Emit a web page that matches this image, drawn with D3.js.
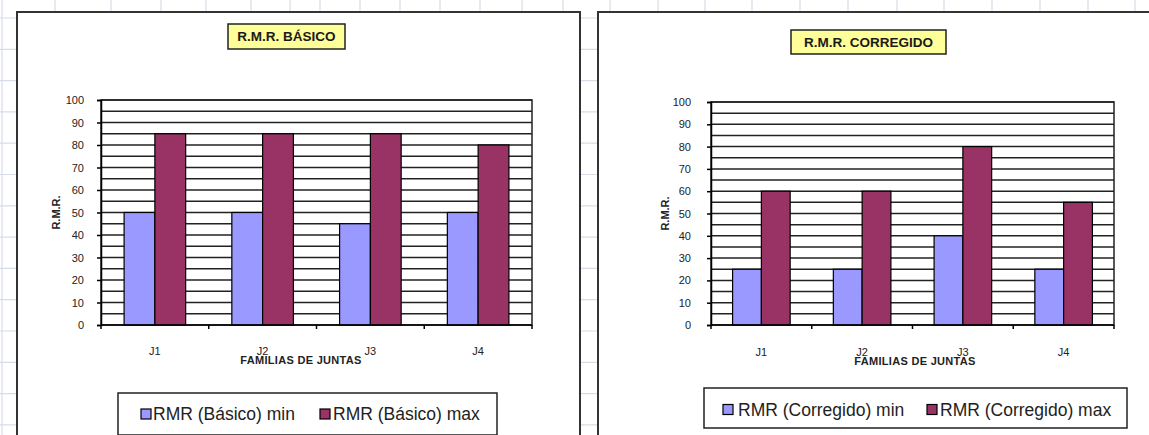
<!DOCTYPE html>
<html>
<head>
<meta charset="utf-8">
<script src="https://cdn.jsdelivr.net/npm/d3@7"></script>
<style>
  html, body { margin: 0; padding: 0; background: #fff; }
  svg { display: block; font-family: "Liberation Sans", Arial, sans-serif; }
</style>
</head>
<body>
<svg id="chart" width="1149" height="435"></svg>
<script>
// Joint families and R.M.R. ranges
const categories = ["J1", "J2", "J3", "J4"];
const basicoMin = [50, 50, 45, 50];
const basicoMax = [85, 85, 85, 80];
const corregidoMin = [25, 25, 40, 25];
const corregidoMax = [60, 60, 80, 55];
const yTickValues = [0, 10, 20, 30, 40, 50, 60, 70, 80, 90, 100];
const gridValues = d3.range(5, 101, 5);
const seriesKeys = ["min", "max"];
const seriesColors = { min: "#9999FF", max: "#993366" };

const svg = d3.select("#chart");
const W = 1149, H = 435;

// Worksheet cell grid behind the charts
const sheet = svg.append("g").attr("stroke", "#d6dce8").attr("stroke-width", 1.2);
const rowH = 31.3;
d3.range(18, H, rowH).forEach(y => {
  sheet.append("line").attr("x1", 0).attr("x2", W).attr("y1", y).attr("y2", y);
});
const colXs = [2, 55, 111, 161, 206, 251, 290, 320, 360, 400, 440, 480, 522, 563,
               610, 658, 705, 752, 800, 848, 897, 944, 992, 1040, 1088, 1135];
colXs.forEach(x => {
  sheet.append("line").attr("x1", x).attr("x2", x).attr("y1", 0).attr("y2", H);
});

const panels = [
  {
    title: "R.M.R. BÁSICO",
    minVals: basicoMin, maxVals: basicoMax,
    legendNames: ["RMR (Básico) min", "RMR (Básico) max"],
    frameX: 17, frameW: 563,
    plot: { x0: 101, x1: 532, y0: 100, y1: 325 },
    titleBox: { x: 228, y: 24, w: 117, h: 25 },
    tickLabelGap: 17, yTitleX: 56,
    catLabelY: 355, xTitleX: 301, xTitleY: 364,
    legend: { x: 118, y: 393, w: 379, h: 42, sw: [141, 320], tx: [153, 333], cy: 414 }
  },
  {
    title: "R.M.R. CORREGIDO",
    minVals: corregidoMin, maxVals: corregidoMax,
    legendNames: ["RMR (Corregido) min", "RMR (Corregido) max"],
    frameX: 598, frameW: 600,
    plot: { x0: 711, x1: 1114, y0: 102, y1: 325 },
    titleBox: { x: 791, y: 30, w: 155, h: 24 },
    tickLabelGap: 20, yTitleX: 665,
    catLabelY: 356, xTitleX: 915, xTitleY: 365,
    legend: { x: 704, y: 388, w: 423, h: 40, sw: [723, 927], tx: [738, 940], cy: 409.5 }
  }
];

panels.forEach(p => {
  const g = svg.append("g");

  // chart frame
  g.append("rect")
    .attr("x", p.frameX).attr("y", 12)
    .attr("width", p.frameW).attr("height", 500)
    .attr("fill", "#fff").attr("stroke", "#333").attr("stroke-width", 2);

  const x = d3.scaleBand().domain(categories).range([p.plot.x0, p.plot.x1]).padding(0);
  const xs = d3.scaleBand().domain(seriesKeys).range([0, x.bandwidth()])
    .paddingInner(0).paddingOuter(0.75);
  const y = d3.scaleLinear().domain([0, 100]).range([p.plot.y1, p.plot.y0]);

  // plot area
  g.append("rect")
    .attr("x", p.plot.x0).attr("y", p.plot.y0)
    .attr("width", p.plot.x1 - p.plot.x0).attr("height", p.plot.y1 - p.plot.y0)
    .attr("fill", "#fff").attr("stroke", "#222").attr("stroke-width", 1.5);

  // horizontal gridlines
  g.append("g").selectAll("line").data(gridValues).join("line")
    .attr("x1", p.plot.x0).attr("x2", p.plot.x1)
    .attr("y1", d => y(d)).attr("y2", d => y(d))
    .attr("stroke", "#222").attr("stroke-width", 1.5);

  // bars
  const rows = categories.map((c, i) => ({ cat: c, min: p.minVals[i], max: p.maxVals[i] }));
  g.append("g").selectAll("g").data(rows).join("g")
    .attr("transform", d => `translate(${x(d.cat)},0)`)
    .selectAll("rect").data(d => seriesKeys.map(k => ({ key: k, value: d[k] }))).join("rect")
    .attr("x", d => xs(d.key)).attr("width", xs.bandwidth())
    .attr("y", d => y(d.value)).attr("height", d => y(0) - y(d.value))
    .attr("fill", d => seriesColors[d.key])
    .attr("stroke", "#000").attr("stroke-width", 1.2);

  // y axis
  const yAxis = g.append("g")
    .attr("transform", `translate(${p.plot.x0},0)`)
    .call(d3.axisLeft(y).tickValues(yTickValues).tickSize(4).tickPadding(p.tickLabelGap - 4));
  yAxis.select(".domain").attr("stroke", "#000").attr("stroke-width", 1.5);
  yAxis.selectAll(".tick line").attr("stroke", "#000").attr("stroke-width", 1.5);
  yAxis.selectAll(".tick text")
    .attr("fill", "#222").style("font-size", "11px")
    .style("font-family", "'Liberation Sans', Arial, sans-serif");

  // x axis: ticks between categories
  const bounds = d3.range(categories.length + 1).map(i => p.plot.x0 + i * x.step());
  g.append("line")
    .attr("x1", p.plot.x0).attr("x2", p.plot.x1)
    .attr("y1", y(0)).attr("y2", y(0))
    .attr("stroke", "#000").attr("stroke-width", 1.5);
  g.append("g").selectAll("line").data(bounds).join("line")
    .attr("x1", d => d).attr("x2", d => d)
    .attr("y1", y(0)).attr("y2", y(0) + 4)
    .attr("stroke", "#000").attr("stroke-width", 1.5);

  g.append("g").selectAll("text").data(categories).join("text")
    .attr("x", d => x(d) + x.bandwidth() / 2).attr("y", p.catLabelY)
    .attr("text-anchor", "middle").attr("fill", "#222")
    .style("font-size", "11px")
    .text(d => d);

  // axis titles
  g.append("text")
    .attr("x", p.xTitleX).attr("y", p.xTitleY)
    .attr("text-anchor", "middle").attr("fill", "#222")
    .style("font-size", "11px").style("font-weight", "bold")
    .style("letter-spacing", "0.3px")
    .text("FAMILIAS DE JUNTAS");

  const yMid = (p.plot.y0 + p.plot.y1) / 2;
  g.append("text")
    .attr("transform", `translate(${p.yTitleX},${yMid}) rotate(-90)`)
    .attr("text-anchor", "middle").attr("dy", "0.35em").attr("fill", "#222")
    .style("font-size", "11px").style("font-weight", "bold")
    .text("R.M.R.");

  // chart title in a yellow box
  g.append("rect")
    .attr("x", p.titleBox.x).attr("y", p.titleBox.y)
    .attr("width", p.titleBox.w).attr("height", p.titleBox.h)
    .attr("fill", "#FFFF99").attr("stroke", "#222").attr("stroke-width", 1.5);
  g.append("text")
    .attr("x", p.titleBox.x + p.titleBox.w / 2).attr("y", p.titleBox.y + p.titleBox.h / 2)
    .attr("dy", "0.36em").attr("text-anchor", "middle").attr("fill", "#1a1a1a")
    .style("font-size", "13.5px").style("font-weight", "bold")
    .text(p.title);

  // legend
  const L = p.legend;
  g.append("rect")
    .attr("x", L.x).attr("y", L.y).attr("width", L.w).attr("height", L.h)
    .attr("fill", "#fff").attr("stroke", "#222").attr("stroke-width", 1.5);
  seriesKeys.forEach((k, i) => {
    g.append("rect")
      .attr("x", L.sw[i]).attr("y", L.cy - 5).attr("width", 10).attr("height", 10)
      .attr("fill", seriesColors[k]).attr("stroke", "#000").attr("stroke-width", 1.2);
    g.append("text")
      .attr("x", L.tx[i]).attr("y", L.cy).attr("dy", "0.36em")
      .attr("fill", "#222").style("font-size", "17.5px")
      .text(p.legendNames[i]);
  });
});
</script>
</body>
</html>
